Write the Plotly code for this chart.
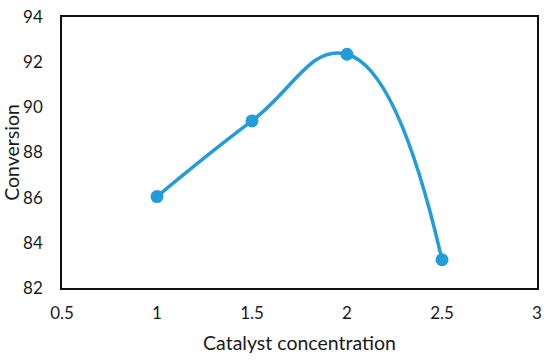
import plotly.graph_objects as go

catalyst = [1, 1.5, 2, 2.5]
conversion = [86.05, 89.4, 92.35, 83.25]
x_ticks = [0.5, 1, 1.5, 2, 2.5, 3]
y_ticks = [82, 84, 86, 88, 90, 92, 94]

color = "#239CDA"
font_family = "Lato, 'Open Sans', sans-serif"

fig = go.Figure()
fig.add_trace(go.Scatter(
    x=catalyst, y=conversion, mode="lines+markers",
    line=dict(color=color, width=3.5, shape="spline", smoothing=1.3),
    marker=dict(color=color, size=13),
    showlegend=False,
))
fig.update_layout(
    width=550, height=360,
    margin=dict(l=62, r=13, t=17, b=72),
    paper_bgcolor="white", plot_bgcolor="white",
    font=dict(family=font_family, size=17, color="#1a1a1a"),
)
fig.update_xaxes(
    range=[0.5, 3], tickvals=x_ticks, ticktext=[str(v) for v in x_ticks],
    showgrid=False, zeroline=False, showline=True, linecolor="#111",
    linewidth=1.5, mirror=True, ticks="", ticklabelstandoff=9, automargin=False,
    title=dict(text="Catalyst concentration", font=dict(size=19.5), standoff=14),
)
fig.update_yaxes(
    range=[82, 94], tickvals=y_ticks, ticktext=[str(v) for v in y_ticks],
    showgrid=False, zeroline=False, showline=True, linecolor="#111",
    linewidth=1.5, mirror=True, ticks="", ticklabelstandoff=14, automargin=False,
    title=dict(text="Conversion", font=dict(size=19.5), standoff=6),
)
fig.write_html("out.html", config={"displayModeBar": False},
               post_script="document.body.style.margin='0';")
